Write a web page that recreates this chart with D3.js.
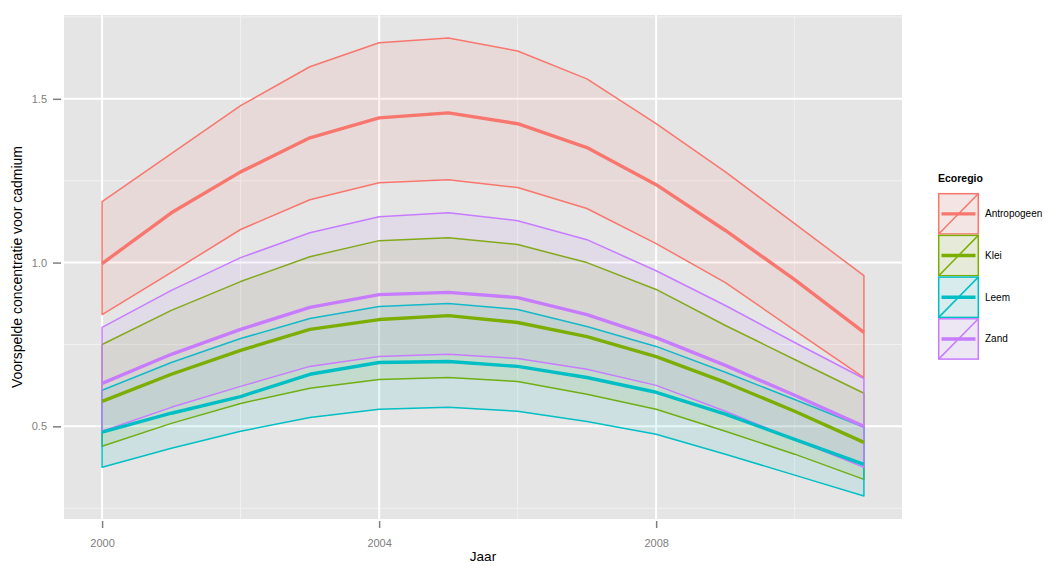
<!DOCTYPE html>
<html><head><meta charset="utf-8">
<script src="https://cdn.jsdelivr.net/npm/d3@7"></script>
<style>body{margin:0;background:#fff;} svg{display:block;font-family:"Liberation Sans",Arial,sans-serif;}</style>
</head><body>
<svg id="chart" width="1050" height="566"></svg>
<script>
const years = [2000,2001,2002,2003,2004,2005,2006,2007,2008,2009,2010,2011];
const regions = ["Antropogeen","Klei","Leem","Zand"];
const colors = ["#F8766D","#7CAE00","#00BFC4","#C77CFF"];

const antroMean  = [0.997,1.152,1.277,1.381,1.442,1.457,1.424,1.351,1.238,1.098,0.948,0.787];
const antroUpper = [1.186,1.333,1.479,1.598,1.671,1.686,1.646,1.561,1.424,1.277,1.119,0.960];
const antroLower = [0.841,0.970,1.101,1.192,1.244,1.253,1.229,1.165,1.058,0.939,0.793,0.649];

const kleiMean  = [0.576,0.659,0.732,0.796,0.826,0.838,0.817,0.774,0.713,0.634,0.546,0.451];
const kleiUpper = [0.750,0.854,0.942,1.018,1.067,1.076,1.055,1.000,0.918,0.808,0.704,0.601];
const kleiLower = [0.439,0.509,0.570,0.616,0.643,0.649,0.637,0.598,0.552,0.485,0.415,0.338];

const leemMean  = [0.482,0.540,0.591,0.659,0.695,0.698,0.683,0.649,0.604,0.537,0.460,0.384];
const leemUpper = [0.610,0.695,0.768,0.829,0.866,0.875,0.857,0.805,0.744,0.665,0.582,0.497];
const leemLower = [0.375,0.433,0.485,0.527,0.552,0.558,0.546,0.515,0.476,0.415,0.351,0.287];

const zandMean  = [0.631,0.720,0.796,0.863,0.902,0.909,0.893,0.841,0.771,0.686,0.595,0.500];
const zandUpper = [0.802,0.915,1.015,1.091,1.140,1.152,1.128,1.070,0.975,0.869,0.756,0.646];
const zandLower = [0.485,0.558,0.622,0.683,0.713,0.720,0.707,0.674,0.625,0.546,0.460,0.375];

const xTicks = [2000,2004,2008];
const xMinor = [2002,2006,2010];
const yTicks = [0.5,1.0,1.5];
const yMinor = [0.25,0.75,1.25,1.75];

const series = [
  {name:regions[0], mean:antroMean, upper:antroUpper, lower:antroLower, color:colors[0]},
  {name:regions[1], mean:kleiMean, upper:kleiUpper, lower:kleiLower, color:colors[1]},
  {name:regions[2], mean:leemMean, upper:leemUpper, lower:leemLower, color:colors[2]},
  {name:regions[3], mean:zandMean, upper:zandUpper, lower:zandLower, color:colors[3]}
];

const svg = d3.select("#chart");
const P = {left:64, top:15, right:902, bottom:519};

const allVals = series.flatMap(s => s.upper.concat(s.lower));
const ymin = d3.min(allVals), ymax = d3.max(allVals);
const yr = ymax - ymin;
const x = d3.scaleLinear().domain([2000 - 0.55, 2011 + 0.55]).range([P.left, P.right]);
const y = d3.scaleLinear().domain([ymin - 0.05*yr, ymax + 0.05*yr]).range([P.bottom, P.top]);

// panel
svg.append("rect").attr("x",P.left).attr("y",P.top).attr("width",P.right-P.left).attr("height",P.bottom-P.top).attr("fill","#E5E5E5");

const grid = svg.append("g");
const yd = y.domain();
yMinor.filter(v => v>=yd[0] && v<=yd[1]).forEach(v => grid.append("line").attr("x1",P.left).attr("x2",P.right).attr("y1",y(v)).attr("y2",y(v)).attr("stroke","#F2F2F2").attr("stroke-width",1));
xMinor.forEach(v => grid.append("line").attr("y1",P.top).attr("y2",P.bottom).attr("x1",x(v)).attr("x2",x(v)).attr("stroke","#F2F2F2").attr("stroke-width",1));
yTicks.forEach(v => grid.append("line").attr("x1",P.left).attr("x2",P.right).attr("y1",y(v)).attr("y2",y(v)).attr("stroke","#FFFFFF").attr("stroke-width",2));
xTicks.forEach(v => grid.append("line").attr("y1",P.top).attr("y2",P.bottom).attr("x1",x(v)).attr("x2",x(v)).attr("stroke","#FFFFFF").attr("stroke-width",2));

// ribbons
const area = d3.area().x((d,i)=>x(years[i])).y0(d=>y(d[0])).y1(d=>y(d[1]));
series.forEach(s => {
  const pts = years.map((yy,i)=>[s.lower[i], s.upper[i]]);
  svg.append("path").attr("d", area(pts) ).attr("fill", s.color).attr("fill-opacity",0.1)
     .attr("stroke", s.color).attr("stroke-width",1.5).attr("stroke-linejoin","round");
});
const line = d3.line().x((d,i)=>x(years[i])).y(d=>y(d));
series.forEach(s => {
  svg.append("path").attr("d", line(s.mean)).attr("fill","none").attr("stroke", s.color).attr("stroke-width", 3.4).attr("stroke-linejoin","round");
});

// axes
const xAxis = d3.axisBottom(x).tickValues(xTicks).tickFormat(d3.format("d")).tickSize(7).tickPadding(11);
const gx = svg.append("g").attr("transform",`translate(0,${P.bottom+2})`).call(xAxis);
gx.select(".domain").remove();
gx.selectAll("line").attr("stroke","#7F7F7F").attr("stroke-width",1.5);
gx.selectAll("text").attr("fill","#7F7F7F").attr("font-size",11).attr("font-family","Liberation Sans, Arial, sans-serif");

const yAxis = d3.axisLeft(y).tickValues(yTicks).tickFormat(d3.format(".1f")).tickSize(8).tickPadding(6);
const gy = svg.append("g").attr("transform",`translate(${P.left-3},0)`).call(yAxis);
gy.select(".domain").remove();
gy.selectAll("line").attr("stroke","#7F7F7F").attr("stroke-width",1.5);
gy.selectAll("text").attr("fill","#7F7F7F").attr("font-size",11).attr("font-family","Liberation Sans, Arial, sans-serif");

svg.append("text").attr("x",(P.left+P.right)/2).attr("y",561).attr("text-anchor","middle").attr("font-size",13.5).attr("fill","#000").text("Jaar");
svg.append("text").attr("transform",`translate(22,${(P.top+P.bottom)/2}) rotate(-90)`).attr("text-anchor","middle").attr("font-size",14).attr("fill","#000").text("Voorspelde concentratie voor cadmium");

// legend
const lg = svg.append("g").attr("transform","translate(938,0)");
lg.append("text").attr("x",0).attr("y",182).attr("font-size",10.5).attr("font-weight","bold").text("Ecoregio");
const kh = 41.7, kw = 41, k0 = 193;
series.forEach((s,i) => {
  const top = k0 + i*kh;
  const g = lg.append("g").attr("transform",`translate(0,${top})`);
  g.append("rect").attr("x",0).attr("y",0).attr("width",kw).attr("height",kh).attr("fill","#F2F2F2");
  g.append("rect").attr("x",0.7).attr("y",0.7).attr("width",kw-1.4).attr("height",kh-1.4).attr("fill",s.color).attr("fill-opacity",0.1).attr("stroke",s.color).attr("stroke-width",1.5);
  g.append("line").attr("x1",0.7).attr("y1",kh-0.7).attr("x2",kw-0.7).attr("y2",0.7).attr("stroke",s.color).attr("stroke-width",1.5);
  g.append("line").attr("x1",3.5).attr("x2",kw-3.5).attr("y1",kh/2).attr("y2",kh/2).attr("stroke",s.color).attr("stroke-width",3.4);
  lg.append("text").attr("x",kw+6).attr("y",top+kh/2+3.5).attr("font-size",10).attr("fill","#000").text(s.name);
});
</script>
</body></html>
